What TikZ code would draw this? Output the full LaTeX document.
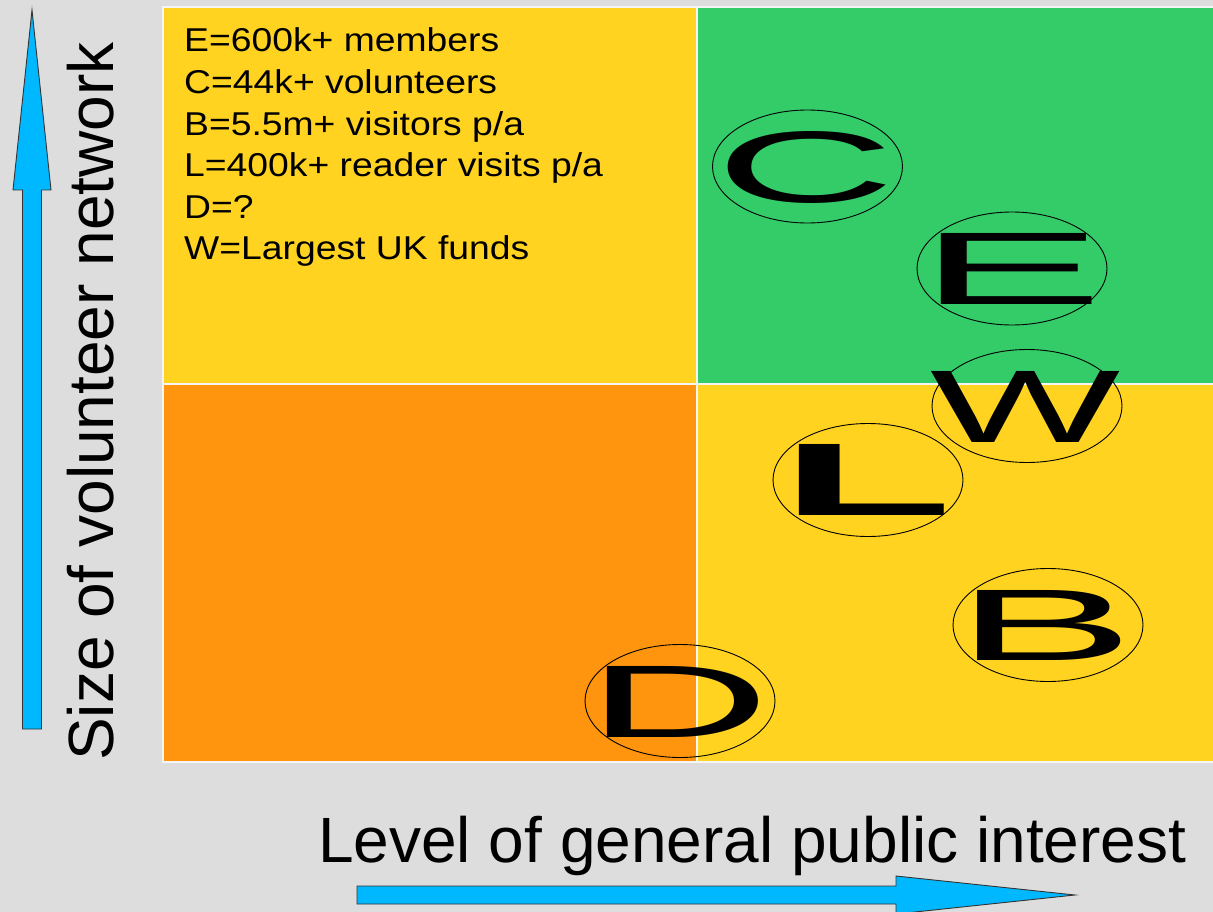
\documentclass[tikz,border=0pt]{standalone}
\usepackage{fontspec}
\usepackage{graphicx}
\usetikzlibrary{shapes.geometric}
\setmainfont{Liberation Sans}

\definecolor{canvasgray}{HTML}{DDDDDD}
\definecolor{quadyellow}{HTML}{FFD320}
\definecolor{quadorange}{HTML}{FF950E}
\definecolor{quadgreen}{HTML}{34CC68}
\definecolor{arrowblue}{HTML}{00B8FF}

\begin{document}
\begin{tikzpicture}[x=1pt,y=-1pt,
  quad/.style={draw=white!96!black, line width=1.6pt},
  axisarrow/.style={fill=arrowblue, draw=black!80, line width=0.9pt, line join=miter},
  ring/.style={ellipse, draw=black, line width=0.9pt, minimum width=190pt, minimum height=113pt, inner sep=0pt},
  glyph/.style={inner sep=0pt, anchor=center},
  listline/.style={anchor=base west, inner sep=0pt, font=\fontsize{33pt}{40pt}\selectfont},
  axislabel/.style={anchor=base west, inner sep=0pt, font=\fontsize{64pt}{70pt}\selectfont}]

% page background
\fill[canvasgray] (0,0) rectangle (1213,912);
\useasboundingbox (0,0) rectangle (1213,912);

% four quadrants
\filldraw[quad, fill=quadyellow] (163,7) rectangle (697,384);
\filldraw[quad, fill=quadgreen]  (697,7) rectangle (1220,384);
\filldraw[quad, fill=quadorange] (163,384) rectangle (697,762);
\filldraw[quad, fill=quadyellow] (697,384) rectangle (1220,762);

% axis arrows
\filldraw[axisarrow] (22.5,729) -- (22.5,190) -- (13,190) -- (32,10) -- (51,190)
  -- (41.5,190) -- (41.5,729) -- cycle;
\filldraw[axisarrow] (357,886) -- (896,886) -- (896,876) -- (1075,895) -- (896,914)
  -- (896,904) -- (357,904) -- cycle;

% axis labels
\node[axislabel, rotate=90] (ylab) at (113,761) {Size of volunteer network};
\node[axislabel] (xlab) at (318,862) {Level of general public interest};

% legend
\node[listline] (l1) at (184,52)    {\scalebox{1.13}[1]{E=600k+ members}};
\node[listline] (l2) at (184,93.6)  {\scalebox{1.13}[1]{C=44k+ volunteers}};
\node[listline] (l3) at (184,135.2) {\scalebox{1.13}[1]{B=5.5m+ visitors p/a}};
\node[listline] (l4) at (184,176.8) {\scalebox{1.13}[1]{L=400k+ reader visits p/a}};
\node[listline] (l5) at (184,218.4) {\scalebox{1.13}[1]{D=?}};
\node[listline] (l6) at (184,260)   {\scalebox{1.13}[1]{W=Largest UK funds}};

% rings
\node[ring] (rc) at (807.5,166.5) {};
\node[ring] (re) at (1012,268.5) {};
\node[ring] (rw) at (1027,406) {};
\node[ring] (rl) at (868,480) {};
\node[ring] (rb) at (1048,625) {};
\node[ring] (rd) at (680,701) {};

% stretched letters (box widths include the glyph side bearings)
\node[glyph] (gc) at (805.5,167.5) {\resizebox*{180pt}{72pt}{C}};
\node[glyph] (ge) at (1011,268.5) {\resizebox{185pt}{71pt}{E}};
\node[glyph] (gw) at (1025,406.5) {\resizebox{190pt}{71pt}{W}};
\node[glyph] (gl) at (866.5,479.5) {\resizebox{172pt}{71pt}{\bfseries L}};
\node[glyph] (gb) at (1045.5,625) {\resizebox{179pt}{70pt}{B}};
\node[glyph] (gd) at (679,701.5) {\resizebox{184pt}{71pt}{D}};
\end{tikzpicture}
\end{document}
